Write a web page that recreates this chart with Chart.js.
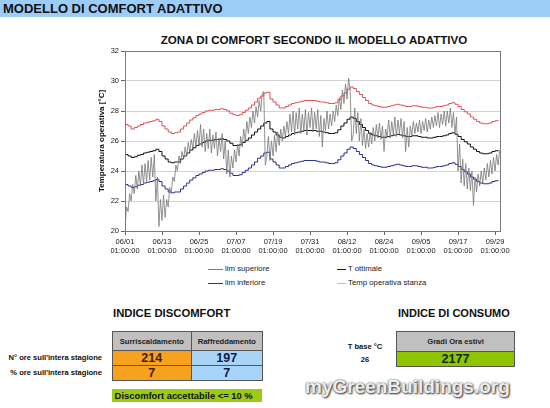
<!DOCTYPE html>
<html>
<head>
<meta charset="utf-8">
<script src="https://cdn.jsdelivr.net/npm/chart.js@4.4.1/dist/chart.umd.min.js"></script>
<style>
  body { margin: 0; width: 550px; height: 408px; overflow: hidden; background: #fff; font-family: "Liberation Sans", Arial, sans-serif; position: relative; }
  .abs { position: absolute; }
  #banner { left: 0; top: 0; width: 550px; height: 17px; background: #9cccf8; }
  #banner span { position: absolute; left: 3px; top: 0; font-weight: bold; font-size: 13px; line-height: 17px; color: #111; }
  #chartTitle { left: 80px; top: 33px; width: 468px; text-align: center; font-weight: bold; font-size: 11.6px; color: #111; }
  .leg { font-size: 7.8px; color: #222; line-height: 10px; }
  .leg i { position: absolute; top: 5px; height: 1px; }
  .h2 { font-weight: bold; font-size: 11.3px; color: #111; }
  table { border-collapse: collapse; position: absolute; }
  td { border: 1px solid #555; text-align: center; padding: 0; font-weight: bold; }
  .hd { background: #c0c0c0; font-size: 7.6px; color: #222; }
  .lbl { font-weight: bold; font-size: 7.6px; color: #111; text-align: right; }
</style>
</head>
<body>
<div id="banner"><span>MODELLO DI COMFORT ADATTIVO</span></div>
<div id="chartTitle" class="abs">ZONA DI COMFORT SECONDO IL MODELLO ADATTIVO</div>
<canvas id="comfortChart" class="abs" width="436" height="216" style="left:80px;top:44px;"></canvas>

<div class="abs leg" style="left:208px;top:264px;"><i style="left:0;width:15px;background:#e0505a;"></i><span style="margin-left:17px;">lim superiore</span></div>
<div class="abs leg" style="left:337px;top:264px;"><i style="left:0;width:9px;background:#111;"></i><span style="margin-left:11px;">T ottimale</span></div>
<div class="abs leg" style="left:208px;top:278px;"><i style="left:0;width:15px;background:#2a3090;"></i><span style="margin-left:17px;">lim inferiore</span></div>
<div class="abs leg" style="left:337px;top:278px;"><i style="left:0;width:9px;background:#bbb;"></i><span style="margin-left:11px;">Temp operativa stanza</span></div>

<div class="abs h2" style="left:113px;top:307px;">INDICE DISCOMFORT</div>
<div class="abs lbl" style="left:0;width:102px;top:353px;">N° ore sull'intera stagione</div>
<div class="abs lbl" style="left:0;width:102px;top:368px;">% ore sull'intera stagione</div>
<table style="left:112px;top:331px;width:151px;">
  <tr style="height:19px;"><td class="hd" id="hdSurr"></td><td class="hd" id="hdRaff"></td></tr>
  <tr style="height:14px;"><td id="oreSurr" style="background:#f7a21f;color:#4a1a00;font-size:12.5px;"></td><td id="oreRaff" style="background:#a8d4f7;color:#101850;font-size:12.5px;"></td></tr>
  <tr style="height:14px;"><td id="pctSurr" style="background:#f7a21f;color:#4a1a00;font-size:12.5px;"></td><td id="pctRaff" style="background:#a8d4f7;color:#101850;font-size:12.5px;"></td></tr>
</table>
<div class="abs" style="left:112px;top:389px;width:150px;height:13px;background:#99cc11;font-weight:bold;font-size:9.4px;line-height:13px;color:#111;">&nbsp;Discomfort accettabile &lt;= 10 %</div>

<div class="abs h2" style="left:398px;top:307px;font-size:11px;">INDICE DI CONSUMO</div>
<div class="abs lbl" style="left:340px;width:50px;top:342px;text-align:center;">T base °C</div>
<div class="abs lbl" style="left:340px;width:50px;top:355px;text-align:center;" id="tBase"></div>
<table style="left:396px;top:331px;width:119px;">
  <tr style="height:20px;"><td class="hd">Gradi Ora estivi</td></tr>
  <tr style="height:15px;"><td id="gradiOra" style="background:#8fc400;color:#0c2a00;font-size:12.5px;"></td></tr>
</table>
<div class="abs" style="left:305px;top:376px;font-family:'Liberation Sans',sans-serif;font-weight:bold;font-size:19px;color:#ededed;text-shadow:0 0 2px #444,1px 1px 2px #333;">myGreenBuildings.org</div>

<script>
// Asse X: giorni dal 01/06, etichette ogni 12 giorni
const tickDays = [0, 12, 24, 36, 48, 60, 72, 84, 96, 108, 120];
const xTickLabels = ['06/01', '06/13', '06/25', '07/07', '07/19', '07/31', '08/12', '08/24', '09/05', '09/17', '09/29'];
const yTicks = [20, 22, 24, 26, 28, 30, 32];

// Valori giornalieri (giorno 0 .. 121)
const limSuperiore = [
    27.1, 27.0, 26.8, 26.9, 27.0, 27.1, 27.2, 27.25, 27.3, 27.35, 27.45, 27.3,
    27.0, 26.8, 26.6, 26.5, 26.55, 26.6,
    26.8, 27.0, 27.2, 27.4, 27.55, 27.7, 27.8, 27.9, 28.0, 28.05,
    28.05, 28.1, 28.1, 28.15, 28.1, 28.0, 27.85, 27.75,
    27.7, 27.75, 27.9, 28.05, 28.2, 28.4, 28.6, 28.85,
    29.0, 29.2, 29.25, 28.8, 28.6, 28.4,
    28.2, 28.2, 28.3, 28.4, 28.5, 28.55, 28.6, 28.65, 28.7, 28.7,
    28.7, 28.7, 28.65, 28.6, 28.6, 28.55, 28.5, 28.5, 28.55, 28.75,
    29.0, 29.2, 29.45, 29.6, 29.5, 29.3,
    29.1, 28.9, 28.7, 28.5, 28.4, 28.35,
    28.3, 28.25, 28.25, 28.3, 28.35, 28.4, 28.45, 28.4, 28.35, 28.3, 28.3, 28.35,
    28.35, 28.3, 28.25, 28.25, 28.2, 28.2, 28.25, 28.3, 28.3, 28.35, 28.4, 28.5,
    28.55, 28.45, 28.3, 28.1, 27.95, 27.8, 27.6, 27.45,
    27.3, 27.2, 27.15, 27.15, 27.2, 27.3, 27.35, 27.4
];
const tOttimale = [
    25.1, 25.0, 24.9, 24.95, 25.05, 25.1, 25.2, 25.25, 25.3, 25.35, 25.45, 25.3,
    25.0, 24.8, 24.6, 24.55, 24.6, 24.6,
    24.8, 25.0, 25.2, 25.4, 25.55, 25.7, 25.8, 25.9, 26.0, 26.05,
    26.05, 26.1, 26.1, 26.15, 26.1, 26.0, 25.85, 25.7,
    25.7, 25.75, 25.9, 26.05, 26.2, 26.4, 26.6, 26.8,
    27.0, 27.2, 27.3, 26.8, 26.6, 26.4,
    26.25, 26.2, 26.3, 26.4, 26.5, 26.55, 26.6, 26.65, 26.7, 26.7,
    26.7, 26.7, 26.65, 26.65, 26.6, 26.55, 26.5, 26.5, 26.55, 26.75,
    27.0, 27.2, 27.45, 27.6, 27.5, 27.3,
    27.1, 26.9, 26.7, 26.5, 26.4, 26.35,
    26.3, 26.25, 26.25, 26.3, 26.35, 26.4, 26.45, 26.4, 26.35, 26.3, 26.3, 26.35,
    26.35, 26.3, 26.25, 26.25, 26.2, 26.2, 26.25, 26.3, 26.3, 26.35, 26.4, 26.5,
    26.55, 26.45, 26.3, 26.1, 25.95, 25.8, 25.6, 25.45,
    25.3, 25.2, 25.15, 25.15, 25.2, 25.3, 25.35, 25.4
];
const limInferiore = [
    23.1, 23.0, 22.9, 22.95, 23.05, 23.1, 23.2, 23.25, 23.3, 23.35, 23.45, 23.3,
    23.0, 22.8, 22.6, 22.55, 22.6, 22.6,
    22.8, 23.0, 23.2, 23.4, 23.55, 23.7, 23.8, 23.9, 24.0, 24.05,
    24.05, 24.1, 24.1, 24.15, 24.1, 24.0, 23.85, 23.7,
    23.7, 23.75, 23.9, 24.05, 24.2, 24.4, 24.6, 24.85,
    25.0, 25.2, 25.25, 24.8, 24.6, 24.4,
    24.2, 24.2, 24.3, 24.4, 24.5, 24.55, 24.6, 24.65, 24.7, 24.7,
    24.7, 24.7, 24.65, 24.6, 24.6, 24.55, 24.5, 24.5, 24.55, 24.75,
    25.0, 25.2, 25.45, 25.6, 25.5, 25.3,
    25.1, 24.9, 24.7, 24.5, 24.4, 24.35,
    24.3, 24.25, 24.25, 24.3, 24.35, 24.4, 24.45, 24.4, 24.35, 24.3, 24.3, 24.35,
    24.35, 24.3, 24.25, 24.25, 24.2, 24.2, 24.25, 24.3, 24.3, 24.35, 24.4, 24.5,
    24.55, 24.45, 24.3, 24.1, 23.95, 23.8, 23.6, 23.45,
    23.3, 23.2, 23.15, 23.15, 23.2, 23.3, 23.35, 23.4
];
// Temp operativa stanza: due letture al giorno (mattina, pomeriggio)
const tempStanza = [
    20.2, 21.6, 21.3, 22.5, 22.0, 23.1, 22.5, 23.7, 22.8, 24.0, 23.0, 24.4, 23.1, 24.5, 23.3, 24.7, 23.4, 24.9, 23.6, 25.1,
    22.0, 23.6, 20.3, 22.1, 20.7, 22.4, 20.9, 22.1, 21.6, 22.9, 22.5, 23.6, 23.3, 24.4, 24.0, 25.0, 24.5, 25.3, 24.8, 25.6,
    25.0, 25.9, 25.3, 26.1, 25.5, 26.5, 25.6, 26.7, 25.7, 27.1, 25.6, 26.8, 25.3, 26.5, 25.5, 26.8, 25.2, 26.4, 25.5, 26.6,
    25.0, 26.2, 25.3, 26.5, 24.8, 26.0, 23.8, 25.4, 23.6, 25.0, 24.2, 25.4, 24.6, 25.8, 25.0, 26.3, 25.6, 26.8, 26.0, 27.3,
    26.5, 27.6, 26.9, 28.0, 27.2, 28.3, 27.6, 28.7, 28.0, 29.2, 29.3, 24.4, 25.0, 26.3, 24.7, 26.0, 25.0, 26.4, 25.3, 26.6,
    25.7, 26.8, 26.0, 27.0, 26.3, 27.3, 26.5, 27.8, 26.6, 28.0, 26.4, 27.9, 26.8, 28.2, 26.5, 27.8, 26.7, 28.1, 26.4, 27.9,
    26.9, 28.2, 26.6, 27.9, 26.8, 28.1, 26.3, 27.7, 25.6, 27.5, 26.7, 28.0, 26.8, 27.8, 27.0, 28.0, 27.3, 28.4, 27.7, 28.9,
    28.1, 29.4, 28.5, 29.8, 28.8, 30.2, 29.4, 26.0, 26.4, 28.2, 26.5, 27.9, 26.0, 27.5, 25.7, 26.8, 25.5, 26.5, 25.6, 26.6,
    25.8, 26.9, 26.0, 27.1, 26.2, 27.2, 26.1, 27.0, 25.3, 26.8, 26.3, 27.4, 26.2, 27.3, 26.4, 27.6, 26.3, 27.4, 26.5, 27.5,
    26.2, 27.3, 25.3, 26.9, 25.6, 27.0, 26.4, 27.3, 26.5, 27.2, 26.6, 27.4, 26.5, 27.3, 26.7, 27.5, 26.6, 27.4, 26.8, 27.6,
    26.9, 27.7, 27.0, 27.9, 26.9, 27.8, 27.1, 28.0, 27.0, 28.0, 27.2, 28.2, 26.9, 27.9, 26.5, 27.6, 24.0, 25.8, 23.2, 24.8,
    23.0, 24.5, 22.8, 24.2, 22.7, 24.0, 21.7, 23.6, 22.6, 23.8, 23.0, 24.0, 23.2, 24.2, 23.4, 24.5, 23.6, 24.7, 23.8, 24.9,
    24.0, 25.1, 24.4, 25.4
];

// Indici
const discomfortHeaders = ['Surriscaldamento', 'Raffreddamento'];
const oreDiscomfort = [214, 197];
const percDiscomfort = [7, 7];
const tBase = 26;
const gradiOraEstivi = 2177;

// Tabelle
document.getElementById('hdSurr').textContent = discomfortHeaders[0];
document.getElementById('hdRaff').textContent = discomfortHeaders[1];
document.getElementById('oreSurr').textContent = oreDiscomfort[0];
document.getElementById('oreRaff').textContent = oreDiscomfort[1];
document.getElementById('pctSurr').textContent = percDiscomfort[0];
document.getElementById('pctRaff').textContent = percDiscomfort[1];
document.getElementById('tBase').textContent = tBase;
document.getElementById('gradiOra').textContent = gradiOraEstivi;

// Cornice dell'area del grafico
const plotBorder = {
    id: 'plotBorder',
    afterDraw(chart) {
        const { ctx, chartArea: a } = chart;
        ctx.save();
        ctx.strokeStyle = '#7a7a7a';
        ctx.lineWidth = 1;
        ctx.strokeRect(Math.round(a.left) + 0.5, Math.round(a.top) + 0.5, Math.round(a.right - a.left), Math.round(a.bottom - a.top));
        ctx.restore();
    }
};

const daily = arr => arr.map((v, i) => ({ x: i, y: v }));
const halfDay = arr => arr.map((v, i) => ({ x: i * 0.5, y: v }));

const ctx = document.getElementById('comfortChart').getContext('2d');
new Chart(ctx, {
    type: 'line',
    data: {
        datasets: [
            { label: 'Temp operativa stanza', data: halfDay(tempStanza), borderColor: '#777', borderWidth: 0.8, pointRadius: 0, tension: 0 },
            { label: 'lim superiore', data: daily(limSuperiore), borderColor: '#e0505a', borderWidth: 1, pointRadius: 0, stepped: true },
            { label: 'T ottimale', data: daily(tOttimale), borderColor: '#111', borderWidth: 1, pointRadius: 0, stepped: true },
            { label: 'lim inferiore', data: daily(limInferiore), borderColor: '#2a3090', borderWidth: 1, pointRadius: 0, stepped: true }
        ]
    },
    options: {
        responsive: false,
        animation: false,
        layout: { padding: { top: 7, right: 16, left: 0, bottom: 0 } },
        plugins: { legend: { display: false }, tooltip: { enabled: false } },
        scales: {
            x: {
                type: 'linear',
                min: 0,
                max: 121.6,
                afterFit: s => { s.height = 29; },
                afterBuildTicks: s => { s.ticks = tickDays.map(v => ({ value: v })); },
                grid: { drawOnChartArea: false, tickLength: 4, color: '#666' },
                border: { color: '#666' },
                ticks: {
                    autoSkip: false,
                    maxRotation: 0,
                    padding: 2,
                    color: '#222',
                    font: { family: 'Liberation Sans', size: 7.5 },
                    callback: v => {
                        const i = tickDays.indexOf(v);
                        return i < 0 ? '' : [xTickLabels[i], '01:00:00'];
                    }
                }
            },
            y: {
                min: 20,
                max: 32,
                afterFit: s => { s.width = 45; },
                afterBuildTicks: s => { s.ticks = yTicks.map(v => ({ value: v })); },
                grid: { color: '#d4d4d4', tickColor: '#666', tickLength: 4 },
                border: { color: '#666' },
                ticks: { padding: 2, color: '#222', font: { family: 'Liberation Sans', size: 7.5 } },
                title: {
                    display: true,
                    text: 'Temperatura operativa [°C]',
                    color: '#111',
                    padding: { top: 17, bottom: 0 },
                    font: { family: 'Liberation Sans', size: 8, weight: 'bold' }
                }
            }
        }
    },
    plugins: [plotBorder]
});
</script>
</body>
</html>
